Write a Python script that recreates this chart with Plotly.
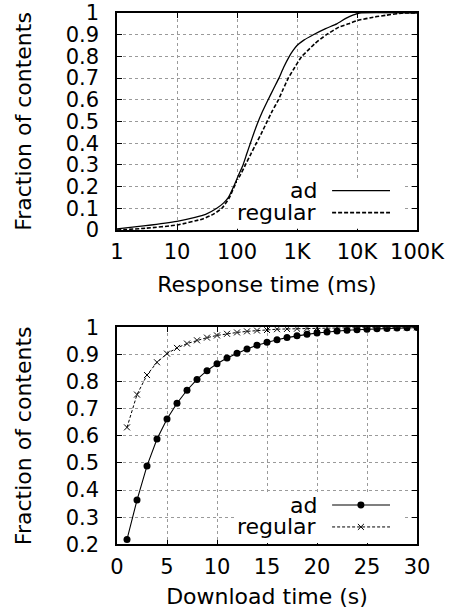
import plotly.graph_objects as go
from plotly.subplots import make_subplots

# ---- Top panel: response time CDF (ms, log scale) ----
ad_rt_ms = [1, 3, 10, 20, 30, 46, 60, 72, 88, 105, 126, 145, 167, 190, 215, 260, 330, 405,
            500, 600, 745, 850, 1000, 1300, 1870, 3000, 4600, 6500, 8500, 11000, 100000]
ad_rt_cdf = [0.005, 0.02, 0.04, 0.058, 0.072, 0.10, 0.125, 0.15, 0.20, 0.25, 0.30, 0.35,
             0.40, 0.445, 0.485, 0.54, 0.60, 0.65, 0.70, 0.75, 0.80, 0.825, 0.85, 0.875,
             0.90, 0.928, 0.95, 0.975, 0.99, 1.0, 1.0]

reg_rt_ms = [1, 3, 10, 26, 40, 56, 75, 90, 112, 138, 170, 210, 255, 305, 390, 490, 590, 716,
             920, 1200, 1550, 2000, 3100, 5000, 7200, 10000, 20000, 31000, 59000, 100000]
reg_rt_cdf = [0.0, 0.008, 0.023, 0.05, 0.072, 0.10, 0.15, 0.20, 0.25, 0.30, 0.35, 0.40,
              0.445, 0.49, 0.55, 0.60, 0.65, 0.70, 0.75, 0.80, 0.83, 0.86, 0.90, 0.935,
              0.95, 0.965, 0.982, 0.99, 1.0, 1.0]

rt_tickvals = [1, 10, 100, 1000, 10000, 100000]
rt_ticktext = ["1", "10", "100", "1K", "10K", "100K"]

# ---- Bottom panel: download time CDF (s) ----
dl_time_s = list(range(1, 31))
ad_dl_cdf = [0.218, 0.363, 0.489, 0.588, 0.662, 0.720, 0.768, 0.808, 0.840, 0.866,
             0.887, 0.904, 0.920, 0.934, 0.945, 0.954, 0.962, 0.969, 0.974, 0.979,
             0.983, 0.986, 0.989, 0.991, 0.993, 0.995, 0.996, 0.997, 0.998, 0.999]
reg_dl_cdf = [0.631, 0.752, 0.824, 0.871, 0.903, 0.924, 0.940, 0.952, 0.962, 0.970,
              0.976, 0.981, 0.985, 0.988, 0.990, 0.993, 0.994, 0.995, 0.996, 0.997,
              0.998, 0.998, 0.999, 0.999, 0.999, 1.0, 1.0, 1.0, 1.0, 1.0]

series_names = ["ad", "regular"]

FONT = "DejaVu Sans"
FS_TICK = 21
FS_TEXT = 22
W, H = 453, 616

fig = make_subplots(rows=2, cols=1)

fig.add_trace(go.Scatter(x=ad_rt_ms, y=ad_rt_cdf, mode="lines", line_shape="spline",
                         line=dict(color="black", width=1.3, smoothing=0.5), showlegend=False),
              row=1, col=1)
fig.add_trace(go.Scatter(x=reg_rt_ms, y=reg_rt_cdf, mode="lines", line_shape="spline",
                         line=dict(color="black", width=1.6, dash="4px,2px", smoothing=0.5),
                         showlegend=False), row=1, col=1)

fig.add_trace(go.Scatter(x=dl_time_s, y=ad_dl_cdf, mode="lines+markers",
                         line=dict(color="black", width=1.1),
                         marker=dict(symbol="circle", size=7, color="black"),
                         showlegend=False), row=2, col=1)
fig.add_trace(go.Scatter(x=dl_time_s, y=reg_dl_cdf, mode="lines+markers",
                         line=dict(color="black", width=1, dash="3px,2px"),
                         marker=dict(symbol="x-thin", size=6, line=dict(color="black", width=1)),
                         showlegend=False), row=2, col=1)

# plot area pixel geometry
L, R = 117, 417
top1, bot1 = 13, 230
top2, bot2 = 327.3, 544.3

common_axis = dict(showline=True, linecolor="black", linewidth=1.5, mirror="allticks",
                   ticks="inside", ticklen=5, tickwidth=1, tickcolor="black",
                   showgrid=True, gridcolor="#9a9a9a", griddash="dot", gridwidth=1,
                   zeroline=False, automargin=False,
                   tickfont=dict(family=FONT, size=FS_TICK, color="black"),
                   title_font=dict(family=FONT, size=FS_TEXT, color="black"))

fig.update_layout(
    width=W, height=H, margin=dict(l=0, r=0, t=0, b=0, autoexpand=False),
    paper_bgcolor="white", plot_bgcolor="white",
    font=dict(family=FONT, size=FS_TICK, color="black"),
    xaxis=dict(common_axis, type="log", range=[0, 5], tickvals=rt_tickvals, ticktext=rt_ticktext,
               domain=[L / W, R / W], anchor="y", ticklabelstandoff=2,
               title=dict(text="Response time (ms)", standoff=14)),
    yaxis=dict(common_axis, range=[0, 1], dtick=0.1, tickformat="~g",
               domain=[1 - bot1 / H, 1 - top1 / H], anchor="x", ticklabelstandoff=12,
               title=dict(text="Fraction of contents", standoff=28)),
    xaxis2=dict(common_axis, range=[0, 30], dtick=5,
                domain=[L / W, R / W], anchor="y2", ticklabelstandoff=3,
                title=dict(text="Download time (s)", standoff=10)),
    yaxis2=dict(common_axis, range=[0.2, 1], dtick=0.1, tickformat="~g",
                domain=[1 - bot2 / H, 1 - top2 / H], anchor="x2", ticklabelstandoff=12,
                title=dict(text="Fraction of contents", standoff=28)),
)

# ---- gnuplot-style keys (text left, sample right) ----
shapes = []
annos = []
for xs, ys, box_top, rows in [("x", "y", 0.23, 1), ("x2", "y2", 0.241, 2)]:
    xr, yr = xs + " domain", ys + " domain"
    shapes.append(dict(type="rect", xref=xr, yref=yr, x0=0.40, x1=0.953, y0=0.006, y1=box_top,
                       fillcolor="white", line=dict(width=0), layer="above"))
    for name, yk in zip(series_names, [0.181, 0.08]):
        annos.append(dict(text=name, xref=xr, yref=yr, x=0.672, y=yk, xanchor="right",
                          yanchor="middle", showarrow=False,
                          font=dict(family=FONT, size=FS_TEXT, color="black")))
    if rows == 1:
        shapes.append(dict(type="line", xref=xr, yref=yr, x0=0.717, x1=0.91, y0=0.181, y1=0.181,
                           line=dict(color="black", width=1.3), layer="above"))
        shapes.append(dict(type="line", xref=xr, yref=yr, x0=0.717, x1=0.91, y0=0.08, y1=0.08,
                           line=dict(color="black", width=1.6, dash="4px,2px"), layer="above"))
    else:
        shapes.append(dict(type="line", xref=xr, yref=yr, x0=0.717, x1=0.91, y0=0.181, y1=0.181,
                           line=dict(color="black", width=1.1), layer="above"))
        shapes.append(dict(type="circle", xref=xr, yref=yr, x0=0.813 - 0.0117, x1=0.813 + 0.0117,
                           y0=0.181 - 0.0161, y1=0.181 + 0.0161, fillcolor="black",
                           line=dict(width=0), layer="above"))
        shapes.append(dict(type="line", xref=xr, yref=yr, x0=0.717, x1=0.91, y0=0.08, y1=0.08,
                           line=dict(color="black", width=1, dash="3px,2px"), layer="above"))
        for sy in [1, -1]:
            shapes.append(dict(type="line", xref=xr, yref=yr,
                               x0=0.813 - 0.01, x1=0.813 + 0.01,
                               y0=0.08 - sy * 0.0138, y1=0.08 + sy * 0.0138,
                               line=dict(color="black", width=1), layer="above"))

fig.update_layout(shapes=shapes, annotations=annos)

fig.write_html("out.html")
